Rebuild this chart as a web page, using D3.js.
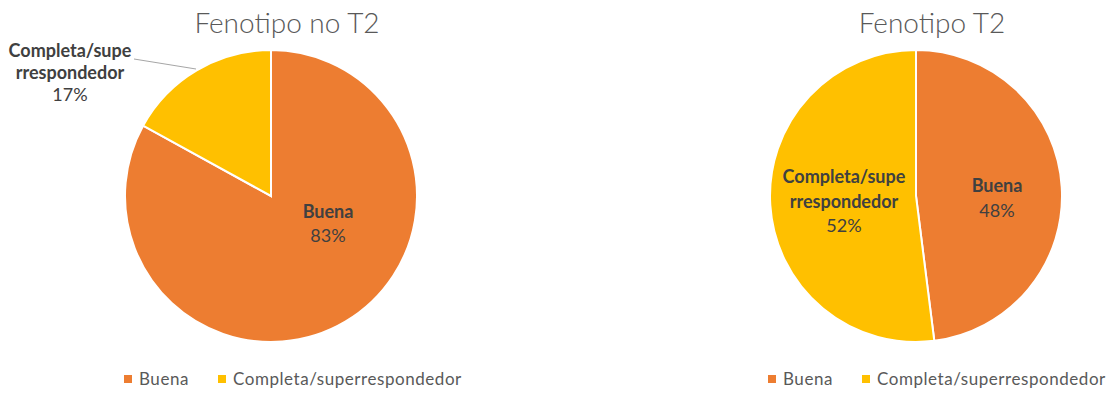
<!DOCTYPE html>
<html lang="en">
<head>
<meta charset="utf-8">
<title>Fenotipo</title>
<script src="https://cdn.jsdelivr.net/npm/d3@7"></script>
<style>
  body { margin: 0; background: #fff; }
  text { font-family: Lato, sans-serif; }
  .title { font-size: 28px; fill: #595959; font-weight: 300; }
  .lbl { font-size: 18px; fill: #404040; font-weight: 700; }
  .pct { font-size: 18px; fill: #404040; }
  .legend text { font-size: 17px; fill: #595959; letter-spacing: 0.55px; }
</style>
</head>
<body>
<script>
  var categories = ["Buena", "Completa/superrespondedor"];
  var noT2 = [83, 17];
  var t2 = [48, 52];
  var titles = ["Fenotipo no T2", "Fenotipo T2"];

  var w = 1112, h = 394;
  var color = d3.scaleOrdinal().domain(categories).range(["#ED7D31", "#FFC000"]);

  var svg = d3.select("body").append("svg")
              .attr("width", w)
              .attr("height", h);

  var pie = d3.pie().sort(null);
  var r = 146;
  var arc = d3.arc().innerRadius(0).outerRadius(r);

  // one pie per chart; labelPos = [x, baseline of first line, line step]
  function drawPie(cx, values, title, labelPos, legendX) {
    var g = svg.append("g").attr("transform", "translate(" + cx + ",196)");

    svg.append("text")
       .attr("class", "title")
       .attr("x", cx + 16)
       .attr("y", 33)
       .attr("text-anchor", "middle")
       .text(title);

    g.selectAll("path")
     .data(pie(values))
     .enter()
     .append("path")
     .attr("d", arc)
     .attr("fill", function(d, i) { return color(categories[i]); })
     .attr("stroke", "#fff")
     .attr("stroke-width", 2);

    // data labels
    labelPos.forEach(function(p, i) {
      var lines = i == 1 ? ["Completa/supe", "rrespondedor"] : ["Buena"];
      var t = svg.append("text").attr("text-anchor", "middle");
      lines.forEach(function(s, k) {
        t.append("tspan").attr("class", "lbl").attr("x", p[0]).attr("y", p[1] + k * p[2]).text(s);
      });
      t.append("tspan").attr("class", "pct").attr("x", p[0]).attr("y", p[1] + lines.length * p[2])
       .text(values[i] + "%");
    });

    // legend
    var lg = svg.append("g").attr("class", "legend").attr("transform", "translate(" + legendX + ",379)");
    var offs = [0, 94];
    categories.forEach(function(c, i) {
      lg.append("rect").attr("x", offs[i]).attr("y", -4).attr("width", 8).attr("height", 8).attr("fill", color(c));
      lg.append("text").attr("x", offs[i] + 15).attr("y", 6).text(c);
    });
  }

  drawPie(271, noT2, titles[0], [[328, 218, 24], [70, 57, 22]], 124);
  drawPie(916, t2, titles[1], [[997, 192, 25], [844, 183, 24.5]], 768);

  // leader line for the outside label
  svg.append("line")
     .attr("x1", 134).attr("y1", 59)
     .attr("x2", 196).attr("y2", 69)
     .attr("stroke", "#a6a6a6")
     .attr("stroke-width", 1);
</script>
</body>
</html>
